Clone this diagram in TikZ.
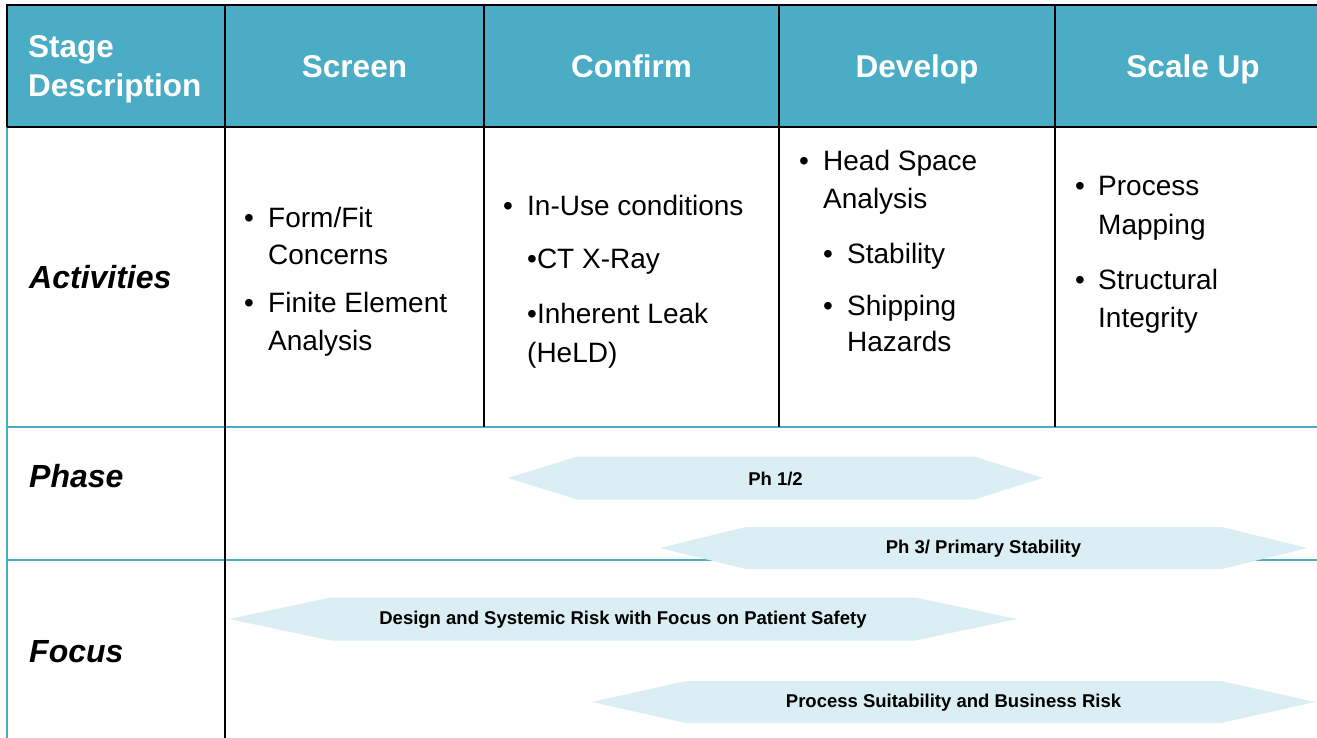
\documentclass[tikz,border=0pt]{standalone}
\usepackage{fontspec}
\setmainfont{Liberation Sans}
\definecolor{headteal}{HTML}{4BACC6}
\definecolor{bandblue}{HTML}{DAEEF3}
\newcommand\hdrfont{\bfseries\fontsize{31.5}{38}\selectfont}
\newcommand\cellfont{\fontsize{28}{38}\selectfont}
\newcommand\rowfont{\bfseries\itshape\fontsize{32}{38}\selectfont}
\newcommand\bandfont{\bfseries\fontsize{18.5}{20}\selectfont}
% hexagonal two-headed band: name, left tip, body left, body right, right tip, centre y, half height, label
\newcommand\hexband[8]{%
  \fill[bandblue] (#2,#6) -- (#3,#6-#7) -- (#4,#6-#7) -- (#5,#6) -- (#4,#6+#7) -- (#3,#6+#7) -- cycle;
  \node[bandlab] (#1) at ({(#2+#5)/2},#6+1) {#8};}
\begin{document}
\begin{tikzpicture}[x=1pt,y=-1pt,
  hdr/.style={font=\hdrfont, text=white, inner sep=0, anchor=base},
  cell/.style={font=\cellfont, inner sep=0, anchor=base west},
  rowlab/.style={font=\rowfont, inner sep=0, anchor=base west},
  bandlab/.style={font=\bandfont, inner sep=0},
  tealrule/.style={draw=headteal, line width=2pt},
  blackrule/.style={draw=black, line width=2pt}]
\useasboundingbox (0,0) rectangle (1317,738);
\fill[white] (0,0) rectangle (1317,738);

% header band
\fill[headteal] (7,5) rectangle (1317,127);

% body rules
\draw[tealrule] (7,127) -- (7,738);
\draw[tealrule] (7,427) -- (1317,427);
\draw[tealrule] (7,560) -- (1317,560);

% header frame and column dividers
\draw[blackrule, line width=2.8pt] (1317,5) -- (7,5) -- (7,127);
\draw[blackrule, line width=2.6pt] (7,127) -- (1317,127);
\draw[blackrule] (225,5) -- (225,738);
\draw[blackrule] (484,5) -- (484,427);
\draw[blackrule] (779,5) -- (779,427);
\draw[blackrule] (1055,5) -- (1055,427);

% header texts
\node[hdr, anchor=base west] (hstage) at (28,58) {Stage};
\node[hdr, anchor=base west] (hdesc) at (28,97) {Description};
\node[hdr] (hscreen) at (354.5,78) {Screen};
\node[hdr] (hconfirm) at (631.5,78) {Confirm};
\node[hdr] (hdevelop) at (917,78) {Develop};
\node[hdr] (hscale) at (1193,78) {Scale Up};

% row labels
\node[rowlab] (ract) at (29,288) {Activities};
\node[rowlab] (rphase) at (29,487) {Phase};
\node[rowlab] (rfocus) at (29,662) {Focus};

% Screen activities
\node[cell] (sb1) at (244,227) {•};
\node[cell] (s1) at (268,227) {Form/Fit};
\node[cell] (s2) at (268,265) {Concerns};
\node[cell] (sb2) at (244,312) {•};
\node[cell] (s3) at (268,312) {Finite Element};
\node[cell] (s4) at (268,350) {Analysis};

% Confirm activities
\node[cell] (cb1) at (503,215) {•};
\node[cell] (c1) at (527,215) {In-Use conditions};
\node[cell] (c2) at (527,268) {•CT X-Ray};
\node[cell] (c3) at (527,323) {•Inherent Leak};
\node[cell] (c4) at (527,362) {(HeLD)};

% Develop activities
\node[cell] (db1) at (799,171) {•};
\node[cell] (d1) at (823,171) {Head Space};
\node[cell] (d2) at (823,208) {Analysis};
\node[cell] (db2) at (823,263) {•};
\node[cell] (d3) at (847,263) {Stability};
\node[cell] (db3) at (823,315) {•};
\node[cell] (d4) at (847,315) {Shipping};
\node[cell] (d5) at (847,351) {Hazards};

% Scale Up activities
\node[cell] (ub1) at (1075,196) {•};
\node[cell] (u1) at (1098,196) {Process};
\node[cell] (u2) at (1098,235) {Mapping};
\node[cell] (ub2) at (1075,289) {•};
\node[cell] (u3) at (1098,289) {Structural};
\node[cell] (u4) at (1098,327) {Integrity};

% phase and focus bands
\hexband{ph12}{508}{577}{974}{1043}{478}{21.5}{Ph 1/2}
\hexband{ph3}{660}{746}{1222}{1307}{548}{21}{Ph 3/ Primary Stability}
\hexband{fdesign}{229}{331}{915}{1017}{619}{21.5}{Design and Systemic Risk with Focus on Patient Safety}
\hexband{fprocess}{592}{686}{1221}{1315}{702}{21}{Process Suitability and Business Risk}
\end{tikzpicture}
\end{document}
